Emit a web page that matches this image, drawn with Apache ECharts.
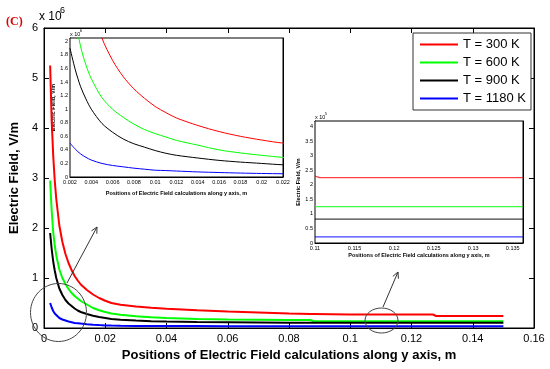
<!DOCTYPE html>
<html><head><meta charset="utf-8">
<script src="https://cdn.jsdelivr.net/npm/echarts@6/dist/echarts.min.js"></script>
<style>html,body{margin:0;padding:0;background:#fff}#c{width:550px;height:369px}</style>
</head><body><div id="c"></div>
<script>
// ---------------- data (field values in units of 10^6 V/m) ----------------
const seriesNames = ['T = 300 K', 'T = 600 K', 'T = 900 K', 'T = 1180 K'];
const seriesColors = ['#ff0000', '#00ff00', '#000000', '#0000ff'];

const positions = [0.002, 0.0025, 0.003, 0.0035, 0.004, 0.005, 0.006, 0.007, 0.008, 0.009,
  0.010, 0.011, 0.012, 0.014, 0.016, 0.018, 0.020, 0.022, 0.025, 0.030,
  0.035, 0.040, 0.050, 0.060, 0.070, 0.080, 0.087, 0.088, 0.100, 0.110,
  0.120, 0.127, 0.128, 0.140, 0.150];

const field300 = [5.25, 4.15, 3.45, 2.95, 2.58, 2.05, 1.72, 1.48, 1.30, 1.16,
  1.04, 0.95, 0.87, 0.76, 0.67, 0.60, 0.545, 0.50, 0.465, 0.43,
  0.405, 0.385, 0.355, 0.33, 0.31, 0.29, 0.28, 0.28, 0.27, 0.27,
  0.27, 0.27, 0.24, 0.24, 0.24];
const field600 = [2.95, 2.35, 1.92, 1.65, 1.45, 1.17, 1.00, 0.88, 0.78, 0.70,
  0.64, 0.59, 0.54, 0.47, 0.40, 0.355, 0.32, 0.29, 0.265, 0.235,
  0.215, 0.20, 0.18, 0.17, 0.165, 0.16, 0.16, 0.135, 0.135, 0.135,
  0.135, 0.135, 0.135, 0.135, 0.135];
const field900 = [1.90, 1.58, 1.33, 1.15, 1.00, 0.79, 0.66, 0.56, 0.49, 0.44,
  0.39, 0.35, 0.32, 0.28, 0.245, 0.22, 0.20, 0.18, 0.165, 0.148,
  0.137, 0.13, 0.12, 0.115, 0.11, 0.105, 0.105, 0.105, 0.105, 0.105,
  0.105, 0.105, 0.105, 0.105, 0.105];
const field1180 = [0.50, 0.41, 0.34, 0.29, 0.25, 0.20, 0.17, 0.15, 0.13, 0.115,
  0.10, 0.095, 0.088, 0.075, 0.066, 0.058, 0.052, 0.048, 0.045, 0.042,
  0.04, 0.04, 0.038, 0.037, 0.036, 0.035, 0.035, 0.035, 0.035, 0.035,
  0.035, 0.035, 0.035, 0.035, 0.035];

// zoomed inset on the far region (values in units of 10^5 V/m)
const farPositions = [0.110, 0.1106, 0.1363];
const far300 = [2.30, 2.25, 2.25];
const far600 = [1.25, 1.25, 1.25];
const far900 = [0.82, 0.82, 0.82];
const far1180 = [0.21, 0.21, 0.21];

// tick labels
const mainXTicks = [0, 0.02, 0.04, 0.06, 0.08, 0.1, 0.12, 0.14, 0.16];
const mainYTicks = [0, 1, 2, 3, 4, 5, 6];
const nearXTicks = [0.002, 0.004, 0.006, 0.008, 0.01, 0.012, 0.014, 0.016, 0.018, 0.02, 0.022];
const nearYTicks = [0, 0.2, 0.4, 0.6, 0.8, 1, 1.2, 1.4, 1.6, 1.8, 2];
const farXTicks = [0.11, 0.115, 0.12, 0.125, 0.13, 0.135];
const farYTicks = [0, 0.5, 1, 1.5, 2, 2.5, 3, 3.5, 4];

const xTitle = 'Positions of Electric Field calculations along y axis, m';
const yTitle = 'Electric Field, V/m';

// ---------------- chart ----------------
const FONT = '"Liberation Sans", Arial, Helvetica, sans-serif';
const fmt = v => String(parseFloat((+v).toFixed(4)));
const mainSets = [field300, field600, field900, field1180];
const farSets = [far300, far600, far900, far1180];

function pair(xs, ys) { return xs.map((x, i) => [x, ys[i]]); }

function xAx(grid, ticks, max, opt) {
  const base = {
    type: 'value', gridIndex: grid, min: ticks[0], max: max,
    interval: +(ticks[1] - ticks[0]).toFixed(6),
    splitLine: { show: false },
    axisLine: { show: true, onZero: false, lineStyle: { color: '#000', width: 1 } },
    axisTick: { show: true, inside: true, length: opt.tickLen, lineStyle: { color: '#000' } }
  };
  const bottom = Object.assign({}, base, {
    position: 'bottom',
    axisLabel: { show: true, color: '#000', fontSize: opt.fs, fontFamily: FONT, margin: opt.margin,
      formatter: fmt, showMaxLabel: opt.showMax, showMinLabel: true },
    name: xTitle, nameLocation: 'middle', nameGap: opt.nameGap,
    nameTextStyle: { color: '#000', fontSize: opt.nfs, fontWeight: 'bold', fontFamily: FONT }
  });
  const top = Object.assign({}, base, { position: 'top', axisLabel: { show: false } });
  return [bottom, top];
}
function yAx(grid, ticks, max, opt) {
  const base = {
    type: 'value', gridIndex: grid, min: ticks[0], max: max,
    interval: +(ticks[1] - ticks[0]).toFixed(6),
    splitLine: { show: false },
    axisLine: { show: true, onZero: false, lineStyle: { color: '#000', width: 1 } },
    axisTick: { show: true, inside: true, length: opt.tickLen, lineStyle: { color: '#000' } }
  };
  const left = Object.assign({}, base, {
    position: 'left',
    axisLabel: { show: true, color: '#000', fontSize: opt.fs, fontFamily: FONT, margin: opt.margin,
      formatter: fmt, showMaxLabel: opt.showMax },
    name: yTitle, nameLocation: 'middle', nameGap: opt.nameGap,
    nameTextStyle: { color: '#000', fontSize: opt.nfs, fontWeight: 'bold', fontFamily: FONT }
  });
  const right = Object.assign({}, base, { position: 'right', axisLabel: { show: false } });
  return [left, right];
}

const xAxes = [].concat(
  xAx(0, mainXTicks, mainXTicks[mainXTicks.length - 1], { tickLen: 5, fs: 11, margin: 5, showMax: true, nameGap: 20, nfs: 13 }),
  xAx(1, nearXTicks, 0.022, { tickLen: 3, fs: 5.5, margin: 2, showMax: true, nameGap: 13, nfs: 5.5 }),
  xAx(2, farXTicks, 0.1363, { tickLen: 3, fs: 5.5, margin: 2, showMax: false, nameGap: 9, nfs: 5.5 })
);
const yAxes = [].concat(
  yAx(0, mainYTicks, mainYTicks[mainYTicks.length - 1], { tickLen: 5, fs: 11, margin: 6, showMax: true, nameGap: 20, nfs: 13 }),
  yAx(1, nearYTicks, 2.05, { tickLen: 3, fs: 5.5, margin: 2, showMax: false, nameGap: 12, nfs: 5.5 }),
  yAx(2, farYTicks, 4.2, { tickLen: 3, fs: 5.5, margin: 2, showMax: false, nameGap: 10, nfs: 5.5 })
);

const series = [];
seriesNames.forEach((name, i) => {
  series.push({ name, type: 'line', xAxisIndex: 0, yAxisIndex: 0, showSymbol: false, symbol: 'none',
    data: pair(positions, mainSets[i]), lineStyle: { color: seriesColors[i], width: 2 },
    itemStyle: { color: seriesColors[i] }, z: 2, animation: false });
  series.push({ name, type: 'line', xAxisIndex: 2, yAxisIndex: 2, showSymbol: false, symbol: 'none',
    data: pair(positions, mainSets[i]), lineStyle: { color: seriesColors[i], width: 1 },
    itemStyle: { color: seriesColors[i] }, z: 4, clip: true, smooth: 0.3, animation: false });
  series.push({ name, type: 'line', xAxisIndex: 4, yAxisIndex: 4, showSymbol: false, symbol: 'none',
    data: pair(farPositions, farSets[i]), lineStyle: { color: seriesColors[i], width: 1.2, opacity: 0.75 },
    itemStyle: { color: seriesColors[i] }, z: 4, clip: true, animation: false });
});

// annotation helpers
function arrow(x1, y1, x2, y2) {
  const dx = x2 - x1, dy = y2 - y1, L = Math.hypot(dx, dy);
  const ux = dx / L, uy = dy / L, nx = -uy, ny = ux, h = 6, w = 3;
  return [
    { type: 'line', shape: { x1, y1, x2, y2 }, style: { stroke: '#333', lineWidth: 1 }, z: 10 },
    { type: 'polyline', shape: { points: [[x2 - h * ux + w * nx, y2 - h * uy + w * ny], [x2, y2], [x2 - h * ux - w * nx, y2 - h * uy - w * ny]] },
      style: { stroke: '#333', lineWidth: 1, fill: null }, z: 10 }
  ];
}
function expLabel(x, y, fs, sup) {
  return [
    { type: 'text', left: x, top: y, style: { text: 'x 10', font: fs + 'px ' + FONT, fill: '#000' }, z: 10 },
    { type: 'text', left: x + fs * 1.75, top: y - fs * 0.45, style: { text: sup, font: (fs * 0.75) + 'px ' + FONT, fill: '#000' }, z: 10 }
  ];
}

const graphics = [].concat(
  [{ type: 'text', left: 6, top: 16, style: { text: '(C)', font: 'bold 12px "Liberation Serif", "Times New Roman", serif', fill: '#e00000' }, z: 10 }],
  expLabel(39, 11, 12, '6'),
  expLabel(70, 31, 5.5, '6'),
  expLabel(315, 114, 5.5, '5'),
  [{ type: 'ellipse', shape: { cx: 58.5, cy: 312.5, rx: 28, ry: 29 }, style: { stroke: '#444', lineWidth: 1, fill: null }, z: 10 },
   { type: 'ellipse', shape: { cx: 381.5, cy: 320.5, rx: 16.5, ry: 12.5 }, style: { stroke: '#444', lineWidth: 1, fill: null }, z: 10 }],
  arrow(67, 283, 97, 227),
  arrow(383, 307, 398, 272)
);

const chart = echarts.init(document.getElementById('c'), null, { renderer: 'canvas' });
chart.setOption({
  animation: false,
  backgroundColor: '#fff',
  textStyle: { fontFamily: FONT },
  grid: [
    { left: 40, top: 28, width: 494, height: 300, show: true, borderColor: '#000', borderWidth: 1, backgroundColor: '#fff', z: 0 },
    { left: 70, top: 38, width: 213, height: 139, show: true, borderColor: '#000', borderWidth: 1, backgroundColor: '#fff', z: 3 },
    { left: 315, top: 121, width: 208, height: 122, show: true, borderColor: '#000', borderWidth: 1, backgroundColor: '#fff', z: 3 }
  ],
  xAxis: xAxes,
  yAxis: yAxes,
  legend: {
    data: seriesNames, orient: 'vertical', left: 413, top: 33,
    icon: 'rect', itemWidth: 38, itemHeight: 2, itemGap: 3,
    padding: [4, 5, 4, 7], backgroundColor: '#fff', borderColor: '#333', borderWidth: 1,
    textStyle: { fontSize: 13, color: '#000', fontFamily: FONT, lineHeight: 15 },
    selectedMode: false, z: 10
  },
  series: series,
  graphic: graphics
});
</script></body></html>
